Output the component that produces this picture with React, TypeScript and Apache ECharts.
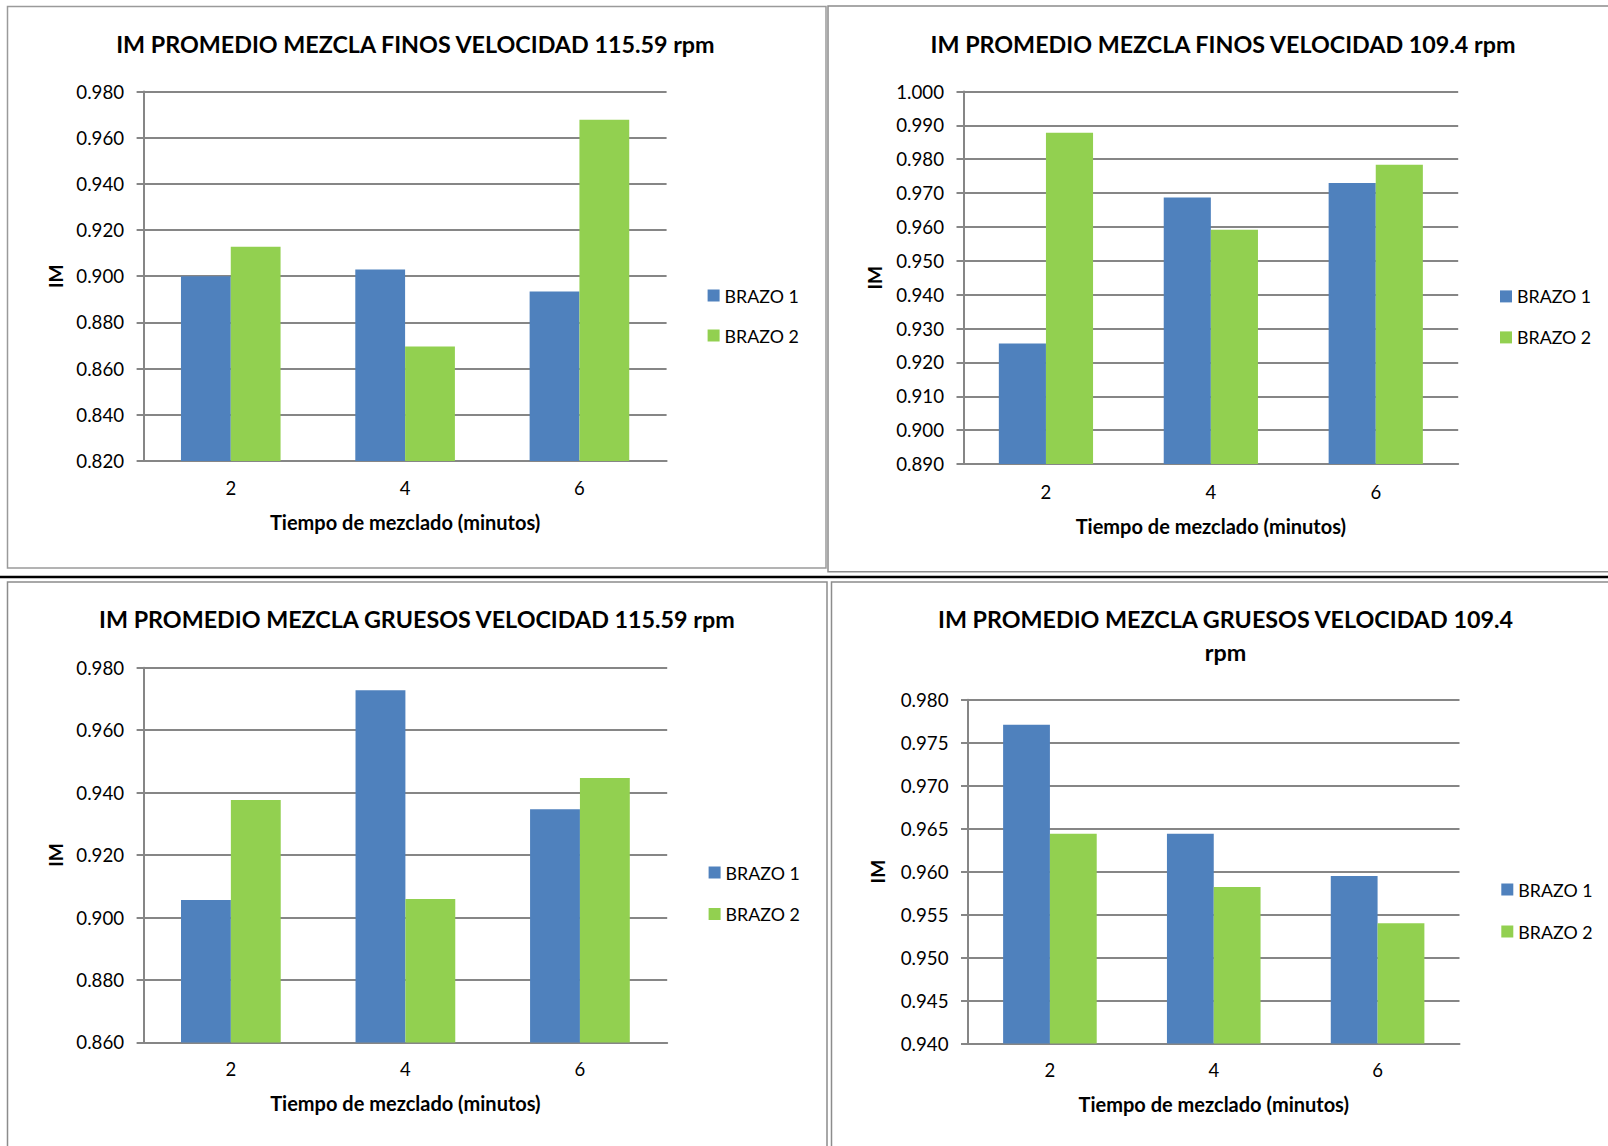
import { useEffect, useRef } from 'react';
import * as echarts from 'echarts';

// Mixing time (minutes) on the category axis
const categories = ['2', '4', '6'];
const seriesNames = ['BRAZO 1', 'BRAZO 2'];

// Mean mixing index, fines, 115.59 rpm
const finos115Brazo1 = [0.9, 0.9029, 0.8934];
const finos115Brazo2 = [0.9128, 0.8696, 0.9678];
// Mean mixing index, fines, 109.4 rpm
const finos109Brazo1 = [0.9256, 0.9687, 0.973];
const finos109Brazo2 = [0.9878, 0.9592, 0.9784];
// Mean mixing index, coarse, 115.59 rpm
const gruesos115Brazo1 = [0.9056, 0.9728, 0.9347];
const gruesos115Brazo2 = [0.9376, 0.9059, 0.9447];
// Mean mixing index, coarse, 109.4 rpm
const gruesos109Brazo1 = [0.9771, 0.9644, 0.9595];
const gruesos109Brazo2 = [0.9644, 0.9582, 0.954];

// Value axis [min, max, step] for each chart
const finos115Scale = [0.82, 0.98, 0.02];
const finos109Scale = [0.89, 1.0, 0.01];
const gruesos115Scale = [0.86, 0.98, 0.02];
const gruesos109Scale = [0.94, 0.98, 0.005];

const titles = [
  'IM PROMEDIO MEZCLA FINOS VELOCIDAD 115.59 rpm',
  'IM PROMEDIO MEZCLA FINOS VELOCIDAD 109.4 rpm',
  'IM PROMEDIO MEZCLA GRUESOS VELOCIDAD 115.59 rpm',
  'IM PROMEDIO MEZCLA GRUESOS VELOCIDAD 109.4\nrpm',
];
const xAxisName = 'Tiempo de mezclado (minutos)';
const yAxisName = 'IM';

const BLUE = '#4F81BD';
const GREEN = '#92D050';
const GRID_GRAY = '#868686';
const FONT = 'Lato, "Open Sans", sans-serif';

const panels = [
  {
    title: titles[0], tx: 415.4, ty: 43.7,
    grid: { left: 143.6, top: 91.5, width: 523, height: 369.5 },
    legend: { left: 707.6, top: 285.5, gap: 20 },
    scale: finos115Scale, b1: finos115Brazo1, b2: finos115Brazo2,
    nameGapY: 88, nameGapX: 61, labelGapX: 27,
  },
  {
    title: titles[1], tx: 1223, ty: 43.7,
    grid: { left: 963.5, top: 91.5, width: 494.7, height: 372.5 },
    legend: { left: 1500, top: 286.4, gap: 21 },
    scale: finos109Scale, b1: finos109Brazo1, b2: finos109Brazo2,
    nameGapY: 88.7, nameGapX: 62, labelGapX: 28,
  },
  {
    title: titles[2], tx: 416.9, ty: 619,
    grid: { left: 143.6, top: 667.7, width: 523.6, height: 374.7 },
    legend: { left: 708.6, top: 862.5, gap: 21.5 },
    scale: gruesos115Scale, b1: gruesos115Brazo1, b2: gruesos115Brazo2,
    nameGapY: 88.2, nameGapX: 60.6, labelGapX: 26.7,
  },
  {
    title: titles[3], tx: 1225.5, ty: 635.2,
    grid: { left: 968, top: 699.7, width: 491.5, height: 343.8 },
    legend: { left: 1501.3, top: 879.5, gap: 22 },
    scale: gruesos109Scale, b1: gruesos109Brazo1, b2: gruesos109Brazo2,
    nameGapY: 90.2, nameGapX: 60.5, labelGapX: 26.5,
  },
];

export default function App() {
  const ref = useRef<HTMLDivElement>(null);

  useEffect(() => {
    if (!ref.current) return;
    const chart = echarts.init(ref.current, undefined, { renderer: 'svg' });

    const grid = panels.map((p) => ({ ...p.grid, containLabel: false }));

    const title = panels.map((p) => ({
      text: p.title,
      left: p.tx,
      top: p.ty,
      textAlign: 'center',
      textVerticalAlign: 'middle',
      padding: 0,
      textStyle: {
        fontFamily: FONT,
        fontWeight: 'bold',
        fontSize: 23.3,
        color: '#000',
        lineHeight: 33,
      },
    }));

    const legend = panels.map((p) => ({
      data: seriesNames,
      orient: 'vertical',
      left: p.legend.left,
      top: p.legend.top,
      padding: 0,
      itemWidth: 12,
      itemHeight: 12,
      itemGap: p.legend.gap,
      icon: 'rect',
      selectedMode: false,
      textStyle: { fontFamily: FONT, fontSize: 17.8, color: '#000', lineHeight: 20 },
    }));

    const xAxis = panels.map((p, i) => ({
      type: 'category',
      gridIndex: i,
      data: categories,
      name: xAxisName,
      nameLocation: 'middle',
      nameGap: p.nameGapX,
      nameTextStyle: {
        fontFamily: FONT,
        fontWeight: 'bold',
        fontSize: 20,
        color: '#000',
        verticalAlign: 'middle',
      },
      axisLine: { show: true, lineStyle: { color: GRID_GRAY, width: 2 } },
      axisTick: { show: false },
      axisLabel: {
        fontFamily: FONT,
        fontSize: 18.5,
        color: '#000',
        margin: p.labelGapX,
        verticalAlign: 'middle',
      },
    }));

    const yAxis = panels.map((p, i) => ({
      type: 'value',
      gridIndex: i,
      min: p.scale[0],
      max: p.scale[1],
      interval: p.scale[2],
      name: yAxisName,
      nameLocation: 'middle',
      nameRotate: 90,
      nameGap: p.nameGapY,
      nameTextStyle: {
        fontFamily: FONT,
        fontWeight: 'bold',
        fontSize: 19,
        color: '#000',
        verticalAlign: 'middle',
      },
      axisLine: { show: true, lineStyle: { color: GRID_GRAY, width: 2 } },
      axisTick: { show: true, length: 7, lineStyle: { color: GRID_GRAY, width: 2 } },
      splitLine: { show: true, lineStyle: { color: GRID_GRAY, width: 2 } },
      axisLabel: {
        fontFamily: FONT,
        fontSize: 18.7,
        color: '#000',
        margin: 19.5,
        formatter: (v: number) => v.toFixed(3),
      },
    }));

    const series: any[] = [];
    panels.forEach((p, i) => {
      [p.b1, p.b2].forEach((values, k) => {
        series.push({
          type: 'bar',
          name: seriesNames[k],
          xAxisIndex: i,
          yAxisIndex: i,
          data: values,
          barWidth: '28.57%',
          barGap: '0%',
          itemStyle: { color: k === 0 ? BLUE : GREEN },
          clip: true,
        });
      });
    });

    // Table-cell frames around each chart and the dividing rule between rows
    const frame = { fill: 'none', stroke: '#8c8c8c', lineWidth: 1.5 };
    const graphic = [
      { type: 'rect', shape: { x: 7.5, y: 6.5, width: 818.5, height: 561.5 }, style: { ...frame, stroke: '#9a9a9a' }, silent: true },
      { type: 'rect', shape: { x: 828, y: 6, width: 800, height: 565.7 }, style: frame, silent: true },
      { type: 'line', shape: { x1: 0, y1: 577, x2: 1608, y2: 577 }, style: { stroke: '#000', lineWidth: 2.5 }, silent: true },
      { type: 'rect', shape: { x: 7.5, y: 582, width: 819.5, height: 600 }, style: frame, silent: true },
      { type: 'rect', shape: { x: 831.5, y: 582, width: 800, height: 600 }, style: frame, silent: true },
    ];

    chart.setOption({
      animation: false,
      backgroundColor: '#fff',
      title,
      legend,
      grid,
      xAxis,
      yAxis,
      series,
      graphic,
    });

    return () => chart.dispose();
  }, []);

  return (
    <div
      ref={ref}
      style={{ position: 'absolute', left: 0, top: 0, width: 1608, height: 1146, background: '#fff' }}
    />
  );
}
